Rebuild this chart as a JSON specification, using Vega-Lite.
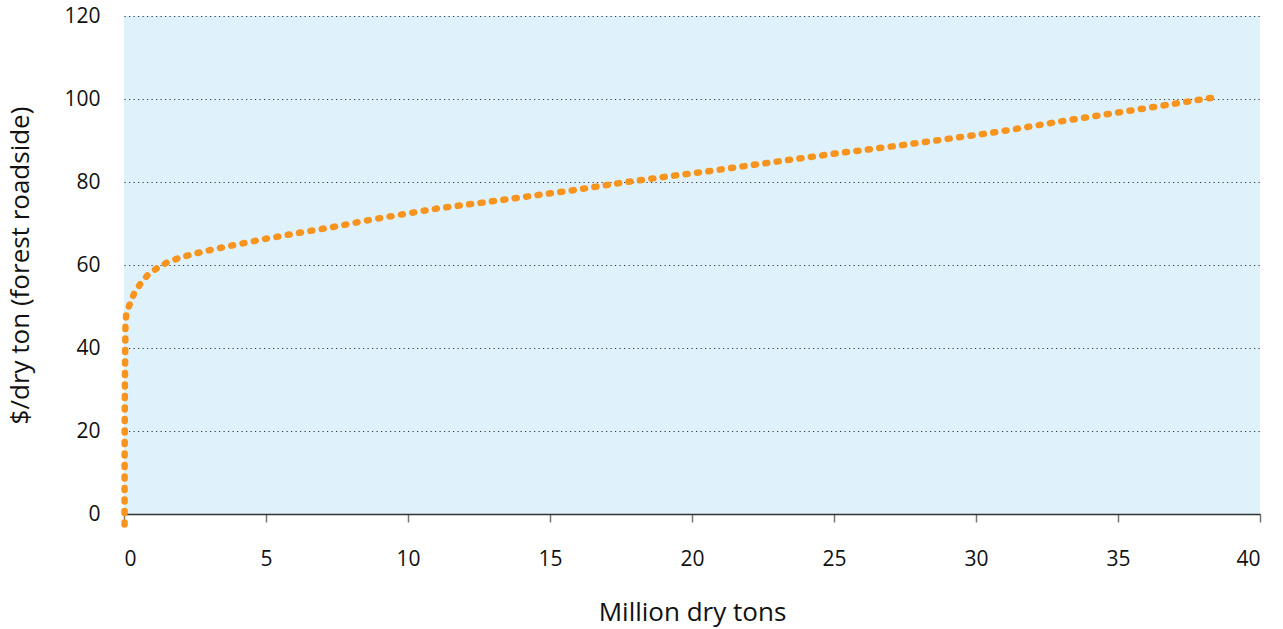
{
  "$schema": "https://vega.github.io/schema/vega-lite/v6.json",
  "autosize": {"type": "none"},
  "padding": {"left": 124, "top": 16, "right": 23, "bottom": 115},
  "width": 1136,
  "height": 498,
  "background": "white",
  "config": {
    "view": {"fill": "#dff1fb", "stroke": null},
    "font": "Open Sans",
    "axis": {"labelColor": "#111", "titleColor": "#111", "labelFont": "Open Sans", "titleFont": "Open Sans", "titleFontWeight": "normal"}
  },
  "data": {
    "values": [
      {"tons": 0.02, "price": -2.5},
      {"tons": 0.02, "price": 10},
      {"tons": 0.03, "price": 30},
      {"tons": 0.05, "price": 45},
      {"tons": 0.08, "price": 48.5},
      {"tons": 0.22, "price": 50.8},
      {"tons": 0.36, "price": 53.2},
      {"tons": 0.6, "price": 55.7},
      {"tons": 0.85, "price": 57.7},
      {"tons": 1.18, "price": 59.3},
      {"tons": 1.54, "price": 60.7},
      {"tons": 1.91, "price": 61.6},
      {"tons": 2.31, "price": 62.4},
      {"tons": 2.71, "price": 63.1},
      {"tons": 3.3, "price": 64.0},
      {"tons": 3.88, "price": 64.8},
      {"tons": 5.05, "price": 66.4},
      {"tons": 6.28, "price": 67.9},
      {"tons": 7.47, "price": 69.3},
      {"tons": 8.68, "price": 70.9},
      {"tons": 9.88, "price": 72.3},
      {"tons": 11.1, "price": 73.7},
      {"tons": 12.7, "price": 75.1},
      {"tons": 14.3, "price": 76.6},
      {"tons": 15.9, "price": 78.1},
      {"tons": 17.5, "price": 79.8},
      {"tons": 19.1, "price": 81.3},
      {"tons": 20.7, "price": 82.7},
      {"tons": 21.5, "price": 83.5},
      {"tons": 23.5, "price": 85.4},
      {"tons": 25.1, "price": 86.9},
      {"tons": 27.2, "price": 88.7},
      {"tons": 28.8, "price": 90.2},
      {"tons": 30.8, "price": 92.1},
      {"tons": 32.8, "price": 94.4},
      {"tons": 36.0, "price": 97.8},
      {"tons": 38.6, "price": 100.6}
    ]
  },
  "mark": {
    "type": "line",
    "color": "#f7941d",
    "strokeWidth": 6.5,
    "strokeCap": "round",
    "strokeDash": [2, 9.5],
    "clip": false,
    "interpolate": "linear"
  },
  "encoding": {
    "x": {
      "field": "tons",
      "type": "quantitative",
      "scale": {"domain": [0, 40], "nice": false, "zero": false},
      "axis": {
        "title": "Million dry tons",
        "values": [0, 5, 10, 15, 20, 25, 30, 35, 40],
        "grid": false,
        "domain": true,
        "domainColor": "#333",
        "domainWidth": 1.5,
        "ticks": true,
        "tickColor": "#777",
        "tickWidth": 1.5,
        "tickSize": 8,
        "labelFontSize": 21,
        "labelPadding": 26,
        "titleFontSize": 26,
        "titlePadding": 30
      }
    },
    "y": {
      "field": "price",
      "type": "quantitative",
      "scale": {"domain": [0, 120], "nice": false, "zero": false},
      "axis": {
        "title": "$/dry ton (forest roadside)",
        "values": [0, 20, 40, 60, 80, 100, 120],
        "grid": true,
        "gridColor": "#333",
        "gridDash": [1.2, 3.3],
        "gridWidth": 1,
        "domain": false,
        "ticks": false,
        "labelFontSize": 21,
        "labelPadding": 24,
        "titleFontSize": 26,
        "titlePadding": 30
      }
    }
  }
}
